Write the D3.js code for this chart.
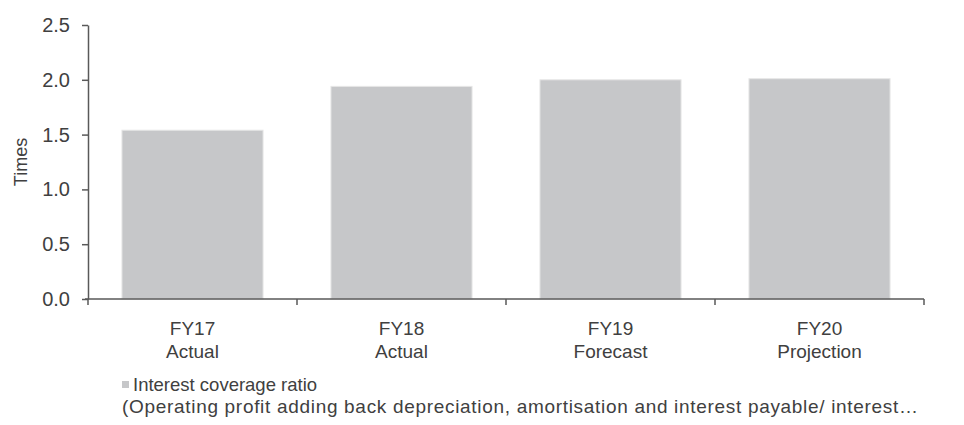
<!DOCTYPE html>
<html>
<head>
<meta charset="utf-8">
<script src="https://cdn.jsdelivr.net/npm/d3@7"></script>
<style>
  html, body { margin: 0; padding: 0; background: #fff; }
  svg { display: block; font-family: "Liberation Sans", Arial, sans-serif; }
</style>
</head>
<body>
<svg id="chart" width="964" height="425"></svg>
<script>
// Interest coverage ratio by financial year
const years = ["FY17", "FY18", "FY19", "FY20"];
const stages = ["Actual", "Actual", "Forecast", "Projection"];
const coverage = [1.54, 1.94, 2.0, 2.01];
const yTicks = [0, 0.5, 1.0, 1.5, 2.0, 2.5];
const legendLines = [
  "Interest coverage ratio",
  "(Operating profit adding back depreciation, amortisation and interest payable/ interest\u2026"
];

const svg = d3.select("#chart");
const margin = { left: 88, right: 40, top: 25, bottom: 126 };
const W = 964, H = 425;
const plotBottom = H - margin.bottom; // 299

const x = d3.scaleBand()
  .domain(years)
  .range([margin.left, W - margin.right])
  .paddingInner(0.325)
  .paddingOuter(0.1625);

const y = d3.scaleLinear()
  .domain([0, 2.5])
  .range([plotBottom, margin.top]);

const axisColor = "#595959";
const textColor = "#404040";
const barColor = "#c6c7c9";

// bars
svg.append("g")
  .selectAll("rect")
  .data(years)
  .join("rect")
  .attr("x", d => x(d))
  .attr("width", x.bandwidth())
  .attr("y", (d, i) => y(coverage[i]))
  .attr("height", (d, i) => plotBottom - y(coverage[i]))
  .attr("fill", barColor)
  .attr("stroke", "#e6e6e6")
  .attr("stroke-width", 1);

// y axis
const yAxis = svg.append("g")
  .attr("transform", `translate(${margin.left},0)`)
  .call(d3.axisLeft(y).tickValues(yTicks).tickFormat(d3.format(".1f")).tickSizeInner(6).tickSizeOuter(0));
yAxis.select(".domain").attr("stroke", axisColor).attr("stroke-width", 1.5);
yAxis.selectAll(".tick line").attr("stroke", axisColor).attr("stroke-width", 1.5);
yAxis.selectAll(".tick text")
  .attr("fill", textColor)
  .attr("font-size", 20)
  .attr("x", -18);

// x axis with boundary ticks between categories
const xStart = margin.left, xEnd = W - margin.right;
const bounds = d3.range(years.length + 1).map(i => xStart + i * (xEnd - xStart) / years.length);
const xAxis = svg.append("g");
xAxis.append("line")
  .attr("x1", xStart - 3).attr("x2", xEnd)
  .attr("y1", plotBottom).attr("y2", plotBottom)
  .attr("stroke", axisColor).attr("stroke-width", 1.5);
xAxis.selectAll("line.bt")
  .data(bounds)
  .join("line")
  .attr("class", "bt")
  .attr("x1", d => d).attr("x2", d => d)
  .attr("y1", plotBottom).attr("y2", plotBottom + 6)
  .attr("stroke", axisColor).attr("stroke-width", 1.5);

const labels = xAxis.selectAll("text.cat")
  .data(years)
  .join("text")
  .attr("class", "cat")
  .attr("text-anchor", "middle")
  .attr("fill", textColor)
  .attr("font-size", 19)
  .attr("transform", d => `translate(${x(d) + x.bandwidth() / 2},0)`);
labels.append("tspan").attr("x", 0).attr("y", 335).text(d => d);
labels.append("tspan").attr("x", 0).attr("y", 358).text((d, i) => stages[i]);

// y axis title
svg.append("text")
  .attr("transform", `translate(21,${(margin.top + plotBottom) / 2}) rotate(-90)`)
  .attr("text-anchor", "middle")
  .attr("dy", "0.35em")
  .attr("fill", textColor)
  .attr("font-size", 18)
  .text("Times");

// legend
const lg = svg.append("g");
lg.append("rect")
  .attr("x", 122).attr("y", 381)
  .attr("width", 7).attr("height", 7)
  .attr("fill", barColor);
lg.append("text")
  .attr("x", 133).attr("y", 391)
  .attr("fill", textColor).attr("font-size", 18.5)
  .text(legendLines[0]);
lg.append("text")
  .attr("x", 122).attr("y", 413)
  .attr("fill", textColor).attr("font-size", 19)
  .attr("textLength", 796)
  .attr("lengthAdjust", "spacing")
  .text(legendLines[1]);
</script>
</body>
</html>
